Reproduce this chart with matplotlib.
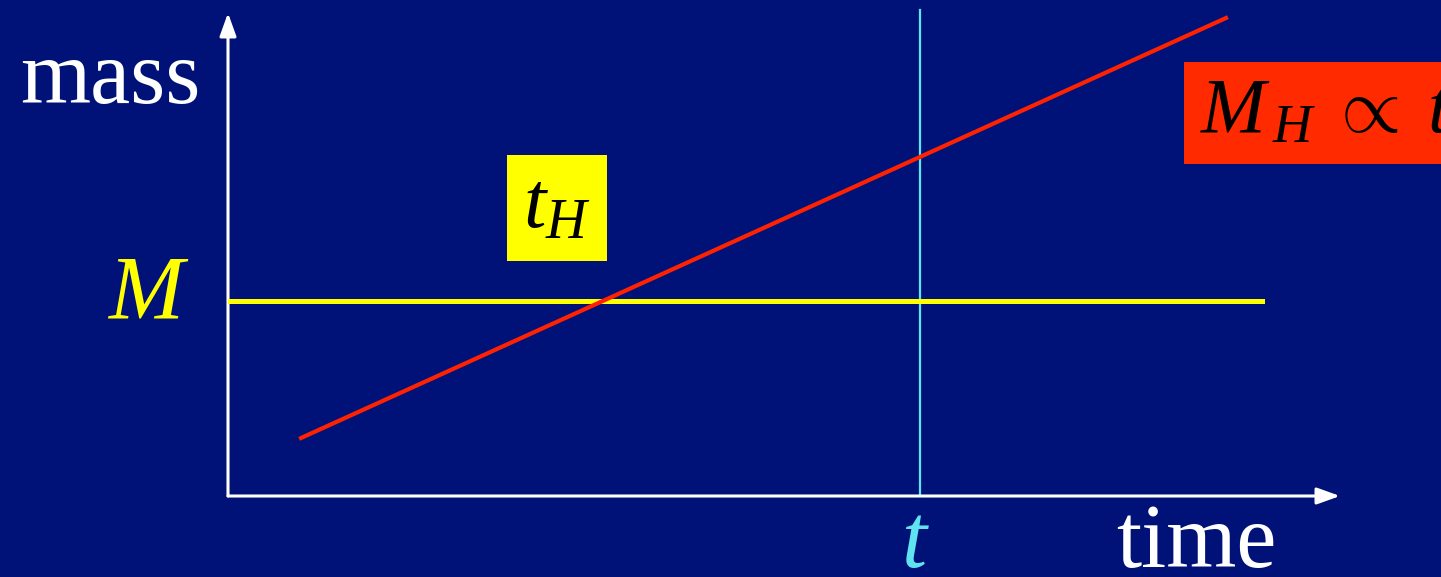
import matplotlib
matplotlib.use('Agg')
import matplotlib.pyplot as plt

plt.rcParams['font.family'] = ['Liberation Serif', 'DejaVu Serif']
plt.rcParams['mathtext.fontset'] = 'custom'
plt.rcParams['mathtext.rm'] = 'Liberation Serif'
plt.rcParams['mathtext.it'] = 'Liberation Serif:italic'

BG = '#001277'

# horizon mass grows linearly with time
horizon_time = [0.73, 9.98]
horizon_mass = [0.58, 4.78]

# fixed mass M
fixed_time = [0.02, 10.34]
fixed_mass = [1.95, 1.95]

# current time t
t_now = 6.92
t_mass = [0.0, 4.86]

x_axis_end = 11.12
y_axis_end = 4.83

fig = plt.figure(figsize=(14.41, 5.77), dpi=100, facecolor=BG)
ax = fig.add_axes([0, 0, 1, 1])
ax.set_facecolor(BG)
ax.set_xlim(-2.28, 12.13)
ax.set_ylim(-0.81, 4.96)
ax.axis('off')

# axes with arrow heads
arrow = dict(arrowstyle='-|>,head_length=0.5,head_width=0.18', color='white',
             lw=2.2, mutation_scale=28, shrinkA=0, shrinkB=0)
ax.annotate('', xy=(x_axis_end, 0), xytext=(0, 0), arrowprops=arrow)
ax.annotate('', xy=(0, y_axis_end), xytext=(0, 0), arrowprops=arrow)

ax.plot([t_now, t_now], t_mass, color='#5FE3F0', lw=1.6, zorder=2)
ax.plot(fixed_time, fixed_mass, color='#FFFF00', lw=3.6, zorder=3)
ax.plot(horizon_time, horizon_mass, color='#FF2200', lw=3.0, zorder=4)

ax.text(-1.18, 3.93, 'mass', color='white', fontsize=65, ha='center', va='baseline')
ax.text(9.68, -0.71, 'time', color='white', fontsize=65, ha='center', va='baseline')
ax.text(-0.8, 1.77, r'$M$', color='#FFFF00', fontsize=65, ha='center', va='baseline')
ax.text(t_now - 0.05, -0.71, r'$t$', color='#5FE3F0', fontsize=65, ha='center', va='baseline')

ax.text(3.29, 2.88, r'$t_H$', color='black', fontsize=58, ha='center', va='center',
        bbox=dict(boxstyle='square,pad=0.2', fc='#FFFF00', ec='none'))
ax.text(9.72, 3.83, r'$M_{\,H}\;\propto\;t$', color='black', fontsize=56, ha='left', va='center',
        bbox=dict(boxstyle='square,pad=0.2', fc='#FF2A00', ec='none'))

fig.savefig('out.png', dpi=100, facecolor=BG)
